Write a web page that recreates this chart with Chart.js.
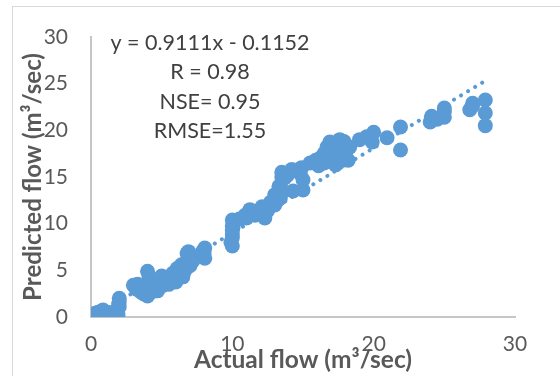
<!DOCTYPE html>
<html>
<head>
<meta charset="utf-8">
<script src="https://cdn.jsdelivr.net/npm/chart.js@4.4.1/dist/chart.umd.min.js"></script>
<style>
  body { margin: 0; background: #fff; }
  #wrap { width: 560px; height: 376px; }
</style>
</head>
<body>
<div id="wrap"><canvas id="flowChart" width="560" height="376"></canvas></div>
<script>
// values (m3/sec)
var actualFlow = [
    // near origin
    0.3, 0.4, 0.5, 0.6, 0.7, 0.85, 0.9, 1.1, 1.35, 1.4, 1.6, 1.7,
    1.85, 1.9, 1.9, 1.95, 2.0, 2.0, 2.0,
    // 3 - 8
    3.0, 3.2, 3.3, 3.5, 3.5, 3.7, 3.8, 4.0, 4.0, 4.1, 4.2, 4.3, 4.5, 4.6, 4.7,
    4.9, 5.0, 5.0, 5.2, 5.4, 5.5, 5.7, 5.8, 6.0, 6.1, 6.2, 6.4, 6.5, 6.65, 6.7,
    6.8, 6.9, 7.0, 7.0, 7.2, 7.9, 8.0, 8.05, 8.05,
    // 10 - 13
    9.9, 10.0, 10.0, 10.0, 10.0, 10.0, 10.05, 10.0, 10.1,
    10.5, 10.9, 11.0, 11.25, 11.5, 11.6, 12.0, 12.1, 12.2, 12.3, 12.5, 12.7,
    13.0, 13.0, 13.2, 13.4,
    // 13 - 16
    13.3, 13.5, 13.5, 13.6, 13.7, 13.9, 14.2, 14.3, 14.8, 14.9, 15.0, 15.0, 15.5,
    15.9, 16.1, 16.2,
    // 16 - 18.5
    16.5, 16.5, 16.7, 16.9, 16.9, 17.0, 17.2, 17.3, 17.5, 17.6, 17.6, 17.8,
    17.9, 18.0, 18.0, 18.2, 18.3,
    // upper end
    19.0, 19.5, 20.0, 19.9, 20.95, 21.9, 21.9,
    24.0, 24.1, 24.5, 25.0, 25.0, 25.0, 26.8, 27.0, 27.0,
    27.9, 27.9, 27.9
];
var predictedFlow = [
    0.4, 0.2, 0.5, 0.3, 0.6, 0.75, 0.4, 0.2, 0.3, 0.1, 0.5, 0.2,
    0.7, 0.4, 0.2, 1.4, 1.1, 1.6, 2.0,
    3.4, 3.0, 3.5, 3.2, 2.7, 2.5, 3.0, 4.9, 2.25, 4.4, 2.6, 3.4, 2.8, 3.8, 2.8,
    3.75, 3.3, 4.4, 3.6, 4.2, 3.5, 4.0, 4.7, 3.75, 5.2, 4.5, 5.6, 4.3, 5.0, 5.8,
    6.8, 7.0, 6.4, 5.5, 6.0, 7.0, 6.8, 7.4, 6.3,
    8.0, 7.6, 8.5, 8.9, 9.3, 9.75, 9.6, 10.4, 10.2,
    10.5, 10.9, 10.6, 11.5, 11.3, 10.9, 11.1, 11.8, 11.5, 10.6, 11.4, 12.3,
    13.1, 12.0, 12.5, 12.75,
    14.0, 15.5, 15.0, 13.5, 14.9, 15.2, 15.8, 13.5, 15.4, 16.0, 14.7, 13.6, 16.5,
    16.8, 16.2, 17.0,
    17.5, 16.5, 18.2, 18.75, 17.35, 16.8, 18.5, 16.3, 17.8, 19.0, 17.35, 16.8,
    18.8, 18.4, 17.5, 16.8, 18.2,
    19.0, 19.3, 19.8, 18.75, 19.2, 20.35, 17.9,
    20.9, 21.5, 21.2, 22.4, 21.4, 22.0, 22.2, 22.6, 22.9,
    23.25, 21.85, 20.5
];
var xTicks = [0, 10, 20, 30];
var yTicks = [0, 5, 10, 15, 20, 25, 30];
var fitLabels = ['y = 0.9111x - 0.1152', 'R = 0.98', 'NSE= 0.95', 'RMSE=1.55'];
var slope = 0.9111, intercept = -0.1152;

var blue = '#5B9BD5';
var points = actualFlow.map(function (x, i) { return { x: x, y: predictedFlow[i] }; });
var xMin = Math.min.apply(null, actualFlow), xMax = Math.max.apply(null, actualFlow);
var trend = [
    { x: xMin, y: slope * xMin + intercept },
    { x: xMax, y: slope * xMax + intercept }
];

// frame + regression text
var extras = {
    id: 'extras',
    beforeDraw: function (chart) {
        var c = chart.ctx;
        c.save();
        c.strokeStyle = '#D9D9D9';
        c.lineWidth = 1;
        c.strokeRect(12.5, 6.5, 600, 400);
        c.restore();
    },
    afterDraw: function (chart) {
        var c = chart.ctx;
        c.save();
        c.fillStyle = '#404040';
        c.font = '21.5px Lato';
        c.textAlign = 'center';
        c.textBaseline = 'middle';
        fitLabels.forEach(function (t, i) {
            c.fillText(t, 210, 43 + i * 29.5);
        });
        c.restore();
    }
};

new Chart(document.getElementById('flowChart'), {
    type: 'scatter',
    data: {
        datasets: [{
            label: 'Predicted',
            data: points,
            backgroundColor: blue,
            borderColor: blue,
            borderWidth: 0,
            pointRadius: 7.5,
            pointHoverRadius: 7.5
        }, {
            type: 'line',
            label: 'Linear fit',
            data: trend,
            borderColor: blue,
            borderWidth: 4,
            borderDash: [0.01, 8.2],
            borderCapStyle: 'round',
            pointRadius: 0,
            fill: false
        }]
    },
    options: {
        responsive: false,
        devicePixelRatio: 1,
        animation: false,
        layout: { padding: { top: 37, right: 45, left: 0, bottom: 0 } },
        plugins: {
            legend: { display: false },
            tooltip: { enabled: false }
        },
        scales: {
            x: {
                type: 'linear',
                min: 0,
                max: 30,
                afterBuildTicks: function (s) { s.ticks = xTicks.map(function (v) { return { value: v }; }); },
                afterFit: function (s) { s.height = 59; },
                grid: { display: false, drawTicks: false },
                border: { color: '#C6C6C6', width: 2 },
                ticks: { color: '#595959', font: { family: 'Lato', size: 21 }, padding: 15 },
                title: {
                    display: true,
                    text: 'Actual flow (m³/sec)',
                    color: '#595959',
                    font: { family: 'Lato', size: 24.5, weight: 'bold', lineHeight: 1.2 },
                    padding: { top: 0, bottom: 1 }
                }
            },
            y: {
                type: 'linear',
                min: 0,
                max: 30,
                afterBuildTicks: function (s) { s.ticks = yTicks.map(function (v) { return { value: v }; }); },
                afterFit: function (s) { s.width = 91; },
                grid: { display: false, drawTicks: false },
                border: { color: '#C6C6C6', width: 2 },
                ticks: { color: '#595959', font: { family: 'Lato', size: 21 }, padding: 23 },
                title: {
                    display: true,
                    text: 'Predicted flow (m³/sec)',
                    color: '#595959',
                    font: { family: 'Lato', size: 24, weight: 'bold', lineHeight: 1.2 },
                    padding: { top: 19, bottom: 0 }
                }
            }
        }
    },
    plugins: [extras]
});
</script>
</body>
</html>
